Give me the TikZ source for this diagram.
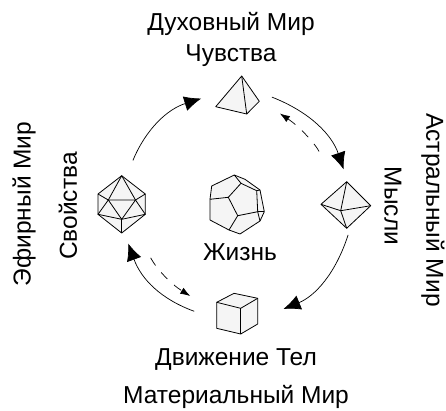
\documentclass[tikz,border=0pt]{standalone}
\usepackage{fontspec}
\setmainfont{Liberation Sans}
\usetikzlibrary{arrows.meta,positioning}

\begin{document}
\begin{tikzpicture}[x=1pt, y=-1pt, semithick,
        main/.style = {circle, inner sep=0pt, outer sep=0pt},
        word/.style = {inner sep=0pt, font=\fontsize{24.5}{24.5}\selectfont},
        solid/.style = {draw, fill=black!4, line width=0.8pt, line join=round},
        edgeline/.style = {line width=0.8pt, line join=round},
        turn/.style = {-{Latex[length=17pt,width=15pt]}, line width=0.7pt},
        back/.style = {-{Latex[length=10pt,width=7pt]}, line width=0.7pt, dash pattern=on 9pt off 9pt}]
        \useasboundingbox (0,0) rectangle (446,410);

        \node[main, minimum size=66pt] (tetra) at (238,95) {};
        \node[main, minimum size=60pt] (octa) at (346,205) {};
        \node[main, minimum size=80pt] (cube) at (237,313) {};
        \node[main, minimum size=80pt] (icosa) at (122,204) {};
        \node[main, minimum size=60pt] (dodeca) at (237,205) {};

        \node[word] (t1) at (231,24) {Духовный Мир};
        \node[word] (t2) at (231,56) {Чувства};
        \node[word] (t3) at (240,252) {Жизнь};
        \node[word] (t4) at (236,360) {Движение Тел};
        \node[word] (t5) at (236,397) {Материальный Мир};
        \node[word, rotate=90] (t6) at (24,204) {Эфирный Мир};
        \node[word, rotate=90] (t7) at (68,206) {Свойства};
        \node[word, rotate=-90] (t8) at (433,210) {Астральный Мир};
        \node[word, rotate=-90] (t9) at (393,206) {Мысли};

        % tetrahedron
        \draw[solid] (241.7,76) -- (215.7,106.7) -- (246.7,114) -- (259.3,101.3) -- cycle;
        \draw[edgeline] (241.7,76) -- (246.7,114);

        % octahedron
        \draw[solid] (346.7,181.7) -- (321,204.3) -- (346.7,228.3) -- (370.7,205.7) -- cycle;
        \draw[edgeline] (346.7,181.7) -- (340.7,210.7) -- (346.7,228.3);
        \draw[edgeline] (321,204.3) -- (340.7,210.7) -- (370.7,205.7);

        % cube
        \draw[solid] (234,293.3) -- (216.7,302.3) -- (216.7,328.3) -- (240.7,334) -- (257.7,324) -- (257.7,298.3) -- cycle;
        \draw[edgeline] (216.7,302.3) -- (240.7,308.3) -- (257.7,298.3);
        \draw[edgeline] (240.7,308.3) -- (240.7,334);

        % icosahedron
        \draw[solid] (121.7,175.7) -- (98,194) -- (98,214.3) -- (121.7,233) -- (145.3,214.3) -- (145.3,194) -- cycle;
        \draw[edgeline] (108.3,200) -- (135.5,200) -- (121.7,219.3) -- cycle;
        \draw[edgeline] (108.3,200) -- (121.7,175.7) -- (135.5,200);
        \draw[edgeline] (98,194) -- (108.3,200) -- (98,214.3) -- (121.7,219.3) -- (145.3,214.3) -- (135.5,200) -- (145.3,194);
        \draw[edgeline] (121.7,219.3) -- (121.7,233);

        % dodecahedron
        \draw[solid] (234.3,175) -- (211.7,186) -- (210,199.3) -- (210,220) -- (229,230) -- (240,234) -- (260,221) -- (264.3,211.7) -- (260,190) -- (245,179.3) -- cycle;
        \draw[edgeline] (228.3,197.3) -- (241,183.3) -- (256.7,190.7) -- (257.7,211.7) -- (237.7,215.7) -- cycle;
        \draw[edgeline] (228.3,197.3) -- (210,199.3);
        \draw[edgeline] (241,183.3) -- (234.3,175);
        \draw[edgeline] (256.7,190.7) -- (260,190);
        \draw[edgeline] (257.7,211.7) -- (264.3,211.7);
        \draw[edgeline] (257.7,211.7) -- (260,221);
        \draw[edgeline] (237.7,215.7) -- (229,230);

        \draw[turn, shorten <=5pt, shorten >=4pt] (icosa.77) to [bend left=25] (tetra.184);
        \draw[turn, shorten <=1pt, shorten >=6pt] (tetra.-3) to [bend left=25] (octa.91);
        \draw[turn, shorten >=7pt] (octa.-86) to [bend left=25] (cube.2);
        \draw[turn, shorten <=3pt] (cube.179) to [bend left=25] (icosa.-81);

        \draw[back, shorten <=30pt, shorten >=13pt] (octa.117) to [bend right=15] (tetra.-20);
        \draw[back, shorten <=21pt, shorten >=10pt] (icosa.-62) to [bend right=15] (cube.163);
    \end{tikzpicture}
\end{document}
